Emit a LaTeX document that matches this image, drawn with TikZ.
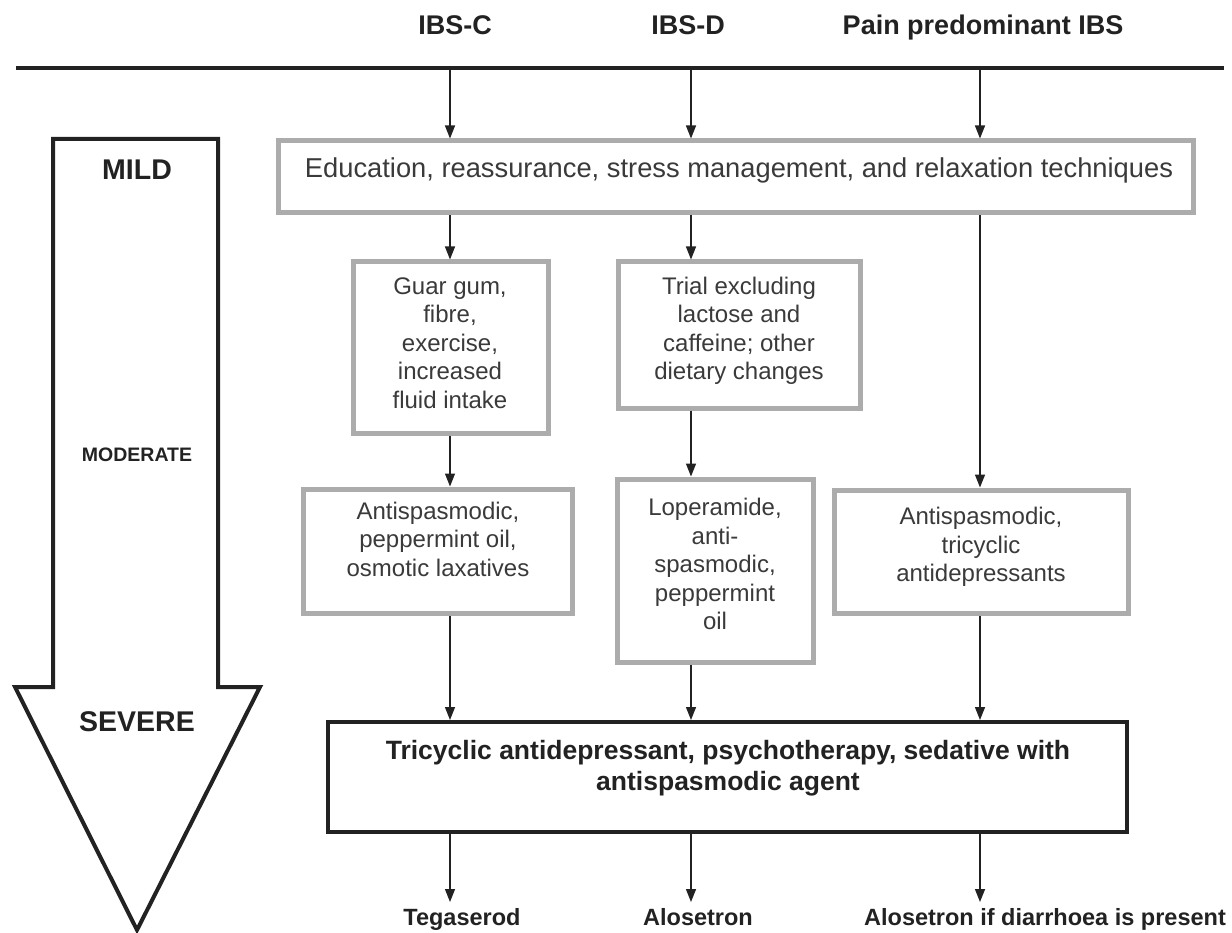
\documentclass[tikz,border=0pt]{standalone}
\usepackage{fontspec}
\setmainfont{Liberation Sans}
\usetikzlibrary{arrows.meta}
\definecolor{boxgray}{RGB}{172,172,172}
\definecolor{txtgray}{RGB}{58,58,58}
\definecolor{dark}{RGB}{34,34,34}
\begin{document}
\begin{tikzpicture}[x=1pt,y=-1pt,
  gbox/.style={draw=boxgray, line width=5pt, fill=white, inner sep=0pt},
  bbox/.style={draw=dark, line width=4pt, fill=white, inner sep=0pt},
  arr/.style={-{Triangle[width=10pt,length=13pt]}, line width=1.4pt, draw=dark},
  body/.style={text=txtgray, font=\fontsize{24}{28.5}\selectfont, align=center, inner sep=0pt},
  boldtxt/.style={text=dark, font=\bfseries\fontsize{26.5}{31}\selectfont, align=center, inner sep=0pt},
  headtxt/.style={text=dark, font=\bfseries\fontsize{27}{31}\selectfont, inner sep=0pt, text height=19.5pt, text depth=5.5pt},
  lvl/.style={text=dark, font=\bfseries\fontsize{28.5}{32}\selectfont, inner sep=0pt},
  outtxt/.style={text=dark, font=\bfseries\fontsize{23.5}{27}\selectfont, inner sep=0pt, text height=17pt, text depth=5pt}]
\useasboundingbox (0,0) rectangle (1232,933);
\fill[white] (0,0) rectangle (1232,933);

% column coordinates
\coordinate (c1) at (450,0);
\coordinate (c2) at (691,0);
\coordinate (c3) at (980,0);

% header
\node[headtxt] (hC) at (455,28) {IBS-C};
\node[headtxt] (hD) at (688,28) {IBS-D};
\node[headtxt] (hP) at (983,28) {Pain predominant IBS};
\coordinate (hl) at (16,68);
\coordinate (hr) at (1224,68);
\draw[dark, line width=4pt] (hl) -- (hr);

% big severity arrow
\draw[dark, line width=4pt, fill=white, line join=miter]
  (53,139) -- (218,139) -- (218,687) -- (260,687) -- (137,930) -- (15,687) -- (53,687) -- cycle;
\node[lvl] (mild) at (137,170) {MILD};
\node[lvl, font=\bfseries\fontsize{19.5}{22}\selectfont] (mod) at (137,455) {MODERATE};
\node[lvl] (sev) at (137,722) {SEVERE};

% boxes
\node[gbox, minimum width=915pt, minimum height=72pt] (edu) at (735.5,177) {};
\node[body, font=\fontsize{27.3}{31}\selectfont] (edut) at (739,170) {Education, reassurance, stress management, and relaxation techniques};

\node[gbox, minimum width=195pt, minimum height=171pt] (guar) at (450.5,347.5) {};
\node[body] (guart) at (450,343) {Guar gum,\\fibre,\\exercise,\\increased\\fluid intake};

\node[gbox, minimum width=242pt, minimum height=146pt] (trial) at (739,335) {};
\node[body] (trialt) at (739,331) {Trial excluding\\lactose and\\caffeine; other\\dietary changes};

\node[gbox, minimum width=269pt, minimum height=124pt] (anti1) at (437.5,551) {};
\node[body] (anti1t) at (438,539) {Antispasmodic,\\peppermint oil,\\osmotic laxatives};

\node[gbox, minimum width=196pt, minimum height=183pt] (lop) at (715,570.5) {};
\node[body] (lopt) at (715,564) {Loperamide,\\anti-\\spasmodic,\\peppermint\\oil};

\node[gbox, minimum width=294pt, minimum height=123pt] (anti3) at (981,551.5) {};
\node[body] (anti3t) at (981,547) {Antispasmodic,\\tricyclic\\antidepressants};

\node[bbox, minimum width=799pt, minimum height=110pt] (bot) at (727.5,777) {};
\node[boldtxt] (bott) at (728,768) {Tricyclic antidepressant, psychotherapy, sedative with\\antispasmodic agent};

% outcomes
\node[outtxt, anchor=north] (teg) at (462,908) {Tegaserod};
\node[outtxt, anchor=north] (alo) at (698,908) {Alosetron};
\node[outtxt, anchor=north] (alo2) at (1045,908) {Alosetron if diarrhoea is present};

% connectors
\draw[arr] (hl -| c1) -- (edu.north -| c1);
\draw[arr] (hl -| c2) -- (edu.north -| c2);
\draw[arr] (hl -| c3) -- (edu.north -| c3);

\draw[arr] (edu.south -| c1) -- (guar.north -| c1);
\draw[arr] (edu.south -| c2) -- (trial.north -| c2);
\draw[arr] (edu.south -| c3) -- (anti3.north -| c3);

\draw[arr] (guar.south -| c1) -- (anti1.north -| c1);
\draw[arr] (trial.south -| c2) -- (lop.north -| c2);

\draw[arr] (anti1.south -| c1) -- (bot.north -| c1);
\draw[arr] (lop.south -| c2) -- (bot.north -| c2);
\draw[arr] (anti3.south -| c3) -- (bot.north -| c3);

\draw[arr, shorten >=6pt] (bot.south -| c1) -- (teg.north -| c1);
\draw[arr, shorten >=6pt] (bot.south -| c2) -- (alo.north -| c2);
\draw[arr, shorten >=6pt] (bot.south -| c3) -- (alo2.north -| c3);
\end{tikzpicture}
\end{document}
